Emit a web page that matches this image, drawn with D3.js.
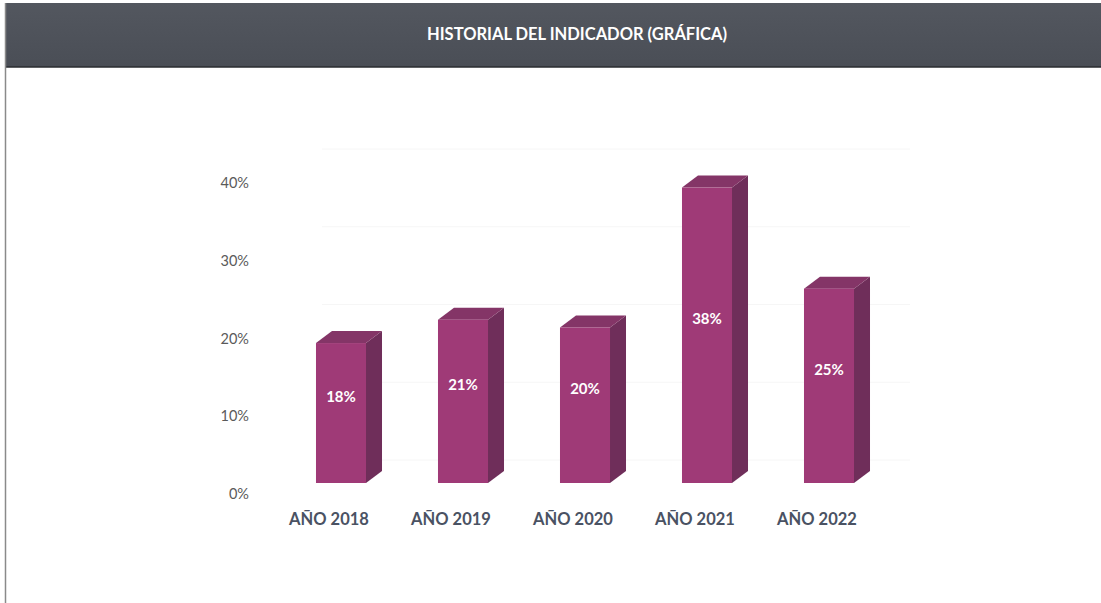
<!DOCTYPE html>
<html>
<head>
<meta charset="utf-8">
<script src="https://cdn.jsdelivr.net/npm/d3@7"></script>
<style>
    body { margin: 0; background: #fff; }
    #vis { width: 1101px; height: 603px; }
    svg text { font-family: Lato, "Open Sans", sans-serif; }
</style>
</head>
<body>
<div id="vis"></div>
<script>
var years = ['AÑO 2018', 'AÑO 2019', 'AÑO 2020', 'AÑO 2021', 'AÑO 2022'];
var values = [18, 21, 20, 38, 25];
var y_ticks = [0, 10, 20, 30, 40];

var width = 1101,
    height = 603;

var svg = d3.select('#vis')
    .append('svg')
    .attr('width', width)
    .attr('height', height);

// header band
var grad = svg.append('defs')
    .append('linearGradient')
    .attr('id', 'hdr')
    .attr('x1', 0).attr('x2', 0).attr('y1', 0).attr('y2', 1);
grad.append('stop').attr('offset', '0%').attr('stop-color', '#53575f');
grad.append('stop').attr('offset', '100%').attr('stop-color', '#4a4e56');

svg.append('rect')
    .attr('x', 5)
    .attr('y', 3)
    .attr('width', width - 5)
    .attr('height', 64)
    .attr('fill', 'url(#hdr)');

svg.append('line')
    .attr('x1', 5).attr('x2', width)
    .attr('y1', 67).attr('y2', 67)
    .attr('stroke', '#2a2c30')
    .attr('stroke-width', 1.5);

svg.append('line')
    .attr('x1', 5.5).attr('x2', 5.5)
    .attr('y1', 3).attr('y2', height)
    .attr('stroke', '#8a8a8a')
    .attr('stroke-width', 1.5);

svg.append('text')
    .attr('x', 577)
    .attr('y', 40)
    .attr('text-anchor', 'middle')
    .attr('fill', '#ffffff')
    .style('font-size', '16.5px')
    .style('font-weight', 'bold')
    .text('HISTORIAL DEL INDICADOR (GRÁFICA)');

// scales
var x_scale = d3.scaleBand()
    .domain(years)
    .range([280, 890])
    .paddingInner(0.59)
    .paddingOuter(0.295);

var y_scale = d3.scaleLinear()
    .domain([0, 40])
    .range([483, 172]);

var depth = { dx: 16, dy: -12 };

// faint back-wall gridlines
svg.append('g')
    .selectAll('line')
    .data(y_ticks)
    .enter()
    .append('line')
    .attr('x1', 322)
    .attr('x2', 910)
    .attr('y1', function (d) { return y_scale(d) - 23; })
    .attr('y2', function (d) { return y_scale(d) - 23; })
    .attr('stroke', '#f6f6f6')
    .attr('stroke-width', 1);

// y axis labels
var y_axis = d3.axisLeft(y_scale)
    .tickValues(y_ticks)
    .tickSize(0)
    .tickFormat(function (d) { return d + '%'; });

svg.append('g')
    .attr('class', 'y axis')
    .attr('transform', 'translate(252,11)')
    .call(y_axis)
    .call(function (g) { g.select('.domain').remove(); })
    .selectAll('text')
    .attr('fill', '#5a5a5a')
    .style('font-size', '14.5px');

// x axis labels
var x_axis = d3.axisBottom(x_scale).tickSize(0);

svg.append('g')
    .attr('class', 'x axis')
    .attr('transform', 'translate(-12,' + 510 + ')')
    .call(x_axis)
    .call(function (g) { g.select('.domain').remove(); })
    .selectAll('text')
    .attr('fill', '#4a5263')
    .style('font-size', '16.5px')
    .style('font-weight', 'bold');

// 3d bars
var bars = svg.selectAll('.bar')
    .data(values)
    .enter()
    .append('g')
    .attr('class', 'bar');

var bw = x_scale.bandwidth();

bars.append('path')
    .attr('fill', '#6f2e5a')
    .attr('d', function (d, i) {
        var x1 = x_scale(years[i]) + bw, y0 = y_scale(0), y1 = y_scale(d);
        return 'M' + x1 + ',' + y0 + 'L' + x1 + ',' + y1 +
            'L' + (x1 + depth.dx) + ',' + (y1 + depth.dy) +
            'L' + (x1 + depth.dx) + ',' + (y0 + depth.dy) + 'Z';
    });

bars.append('path')
    .attr('fill', '#843567')
    .attr('d', function (d, i) {
        var x0 = x_scale(years[i]), x1 = x0 + bw, y1 = y_scale(d);
        return 'M' + x0 + ',' + y1 + 'L' + (x0 + depth.dx) + ',' + (y1 + depth.dy) +
            'L' + (x1 + depth.dx) + ',' + (y1 + depth.dy) + 'L' + x1 + ',' + y1 + 'Z';
    });

bars.append('rect')
    .attr('x', function (d, i) { return x_scale(years[i]); })
    .attr('y', function (d) { return y_scale(d); })
    .attr('width', bw)
    .attr('height', function (d) { return y_scale(0) - y_scale(d); })
    .attr('fill', '#9f3a77');

bars.append('text')
    .attr('x', function (d, i) { return x_scale(years[i]) + bw / 2; })
    .attr('y', function (d) { return y_scale(d / 2) - 11; })
    .attr('text-anchor', 'middle')
    .attr('fill', '#ffffff')
    .style('font-size', '15px')
    .style('font-weight', 'bold')
    .text(function (d) { return d + '%'; });
</script>
</body>
</html>
